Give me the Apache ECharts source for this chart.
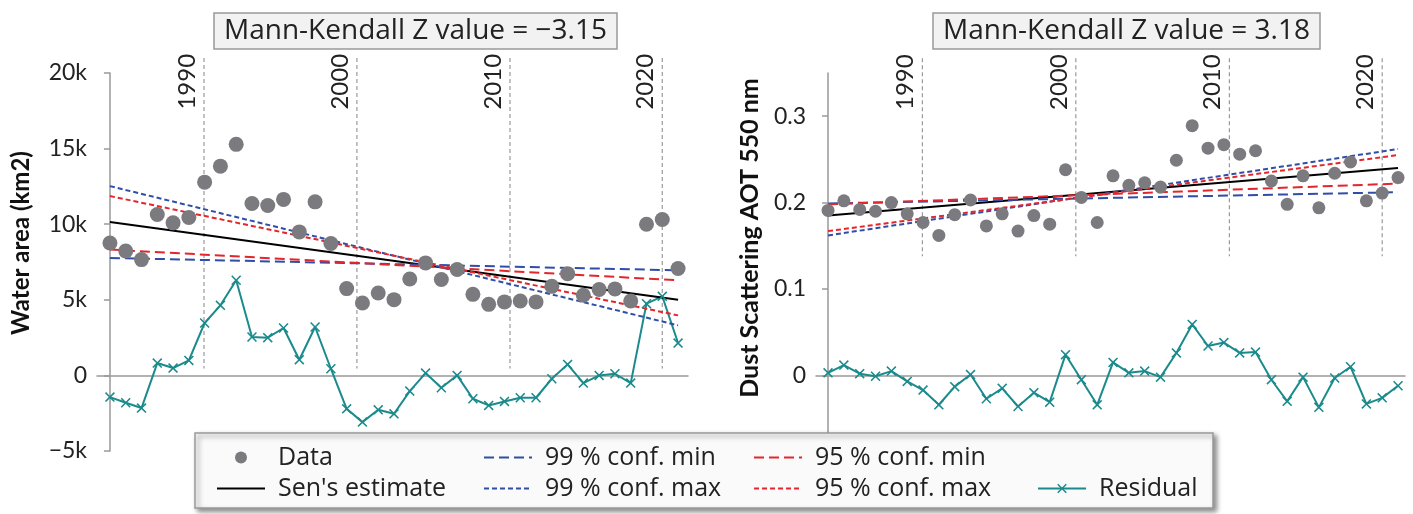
<!DOCTYPE html>
<html>
<head>
<meta charset="utf-8">
<script src="https://cdn.jsdelivr.net/npm/echarts@6/dist/echarts.min.js"></script>
<style>
  html, body { margin: 0; padding: 0; background: #fff; }
  #chart { width: 1413px; height: 514px; }
</style>
</head>
<body>
<div id="chart"></div>
<script>
// left panel: water area (km2)
var waterData = [8760, 8230, 7660, 10640, 10090, 10440, 12780, 13840, 15280, 11370, 11240, 11640, 9490, 11480, 8720, 5740,
  4790, 5450, 5010, 6380, 7440, 6340, 7000, 5360, 4700, 4860, 4920, 4860, 5890, 6730, 5300, 5680, 5720, 4920, 10000, 10310, 7070];
var waterResidual = [-1435, -1810, -2160, 817, 486, 993, 3465, 4636, 6292, 2539, 2495, 3135, 1037, 3200, 441, -2208,
  -3090, -2274, -2539, -1037, 155, -817, 0, -1545, -1987, -1722, -1479, -1479, -221, 729, -508, 0, 110, -508, 4746, 5232, 2141];
var waterSen = [10150, 5010];
var water99min = [7770, 6950];
var water99max = [12520, 3310];
var water95min = [8325, 6290];
var water95max = [11860, 3970];

// right panel: dust scattering AOT 550 nm
var dustData = [0.191, 0.202, 0.192, 0.190, 0.200, 0.187, 0.177, 0.162, 0.186, 0.203, 0.173, 0.187, 0.167, 0.185, 0.175, 0.238,
  0.206, 0.177, 0.231, 0.220, 0.223, 0.218, 0.249, 0.289, 0.263, 0.267, 0.256, 0.260, 0.225, 0.198, 0.231, 0.194, 0.234, 0.247, 0.202, 0.211, 0.229];
var dustResidual = [0.003, 0.012, 0.002, -0.001, 0.005, -0.007, -0.017, -0.034, -0.013, 0.001, -0.027, -0.015, -0.036, -0.020, -0.031, 0.024,
  -0.005, -0.034, 0.015, 0.003, 0.005, -0.002, 0.026, 0.059, 0.034, 0.038, 0.026, 0.027, -0.005, -0.030, -0.002, -0.037, -0.003, 0.010, -0.033, -0.026, -0.012];
var dustSen = [0.185, 0.240];
var dust99min = [0.199, 0.212];
var dust99max = [0.162, 0.262];
var dust95min = [0.198, 0.222];
var dust95max = [0.167, 0.255];

var titles = ['Mann-Kendall Z value = \u22123.15', 'Mann-Kendall Z value = 3.18'];
var yearLabels = ['1990', '2000', '2010', '2020'];
var yearPos = [5.96, 15.65, 25.35, 35.0];   // on the index scale of the points
var trendX = [0, 36];

var FONT = 'Lato, "Open Sans", sans-serif';
var FONT2 = '"Open Sans", Lato, sans-serif';
var BLUE = '#2f4ea8';
var RED = '#e3262b';
var TEAL = '#1b8a8c';
var GREY = '#7b7b7f';
var X_SYMBOL = 'path://M0,1.1L1.1,0L5,3.9L8.9,0L10,1.1L6.1,5L10,8.9L8.9,10L5,6.1L1.1,10L0,8.9L3.9,5Z';

function pts(arr) {
  return arr.map(function (v, i) { return [i, v]; });
}
function trend(arr) {
  return arr.map(function (v, i) { return [trendX[i], v]; });
}

function panelSeries(k, data, resid, sen, m99, x99, m95, x95, yTop, yBot, dot) {
  return [
    {
      name: 'years', type: 'custom', xAxisIndex: k, yAxisIndex: k, z: 1, silent: true,
      data: yearPos.map(function (p) { return [p, yTop, yBot]; }),
      renderItem: function (params, api) {
        var p1 = api.coord([api.value(0), api.value(1)]);
        var p2 = api.coord([api.value(0), api.value(2)]);
        return {
          type: 'group',
          children: [
            { type: 'line', shape: { x1: p1[0], y1: p1[1], x2: p2[0], y2: p2[1] },
              style: { stroke: '#9a9a9a', lineWidth: 1.2, lineDash: [4, 3] } },
            { type: 'text', x: p1[0] - 5, y: p1[1] - 4, rotation: Math.PI / 2,
              style: { text: yearLabels[params.dataIndex], align: 'right', verticalAlign: 'bottom',
                fontSize: 24, fontFamily: FONT, fill: '#222' } }
          ]
        };
      }
    },
    {
      name: 'Residual', type: 'line', xAxisIndex: k, yAxisIndex: k, z: 2,
      data: pts(resid), symbol: X_SYMBOL, symbolSize: 10,
      itemStyle: { color: TEAL }, lineStyle: { color: TEAL, width: 2 }
    },
    {
      name: "Sen's estimate", type: 'line', xAxisIndex: k, yAxisIndex: k, z: 2, showSymbol: false,
      data: trend(sen), lineStyle: { color: '#000', width: 2 }, itemStyle: { color: '#000' }
    },
    {
      name: '99 % conf. min', type: 'line', xAxisIndex: k, yAxisIndex: k, z: 2, showSymbol: false,
      data: trend(m99), lineStyle: { color: BLUE, width: 2, type: [10, 5] }, itemStyle: { color: BLUE }
    },
    {
      name: '99 % conf. max', type: 'line', xAxisIndex: k, yAxisIndex: k, z: 2, showSymbol: false,
      data: trend(x99), lineStyle: { color: BLUE, width: 2, type: [5, 3] }, itemStyle: { color: BLUE }
    },
    {
      name: '95 % conf. min', type: 'line', xAxisIndex: k, yAxisIndex: k, z: 2, showSymbol: false,
      data: trend(m95), lineStyle: { color: RED, width: 2, type: [10, 5] }, itemStyle: { color: RED }
    },
    {
      name: '95 % conf. max', type: 'line', xAxisIndex: k, yAxisIndex: k, z: 2, showSymbol: false,
      data: trend(x95), lineStyle: { color: RED, width: 2, type: [5, 3] }, itemStyle: { color: RED }
    },
    {
      name: 'Data', type: 'scatter', xAxisIndex: k, yAxisIndex: k, z: 3,
      data: pts(data), symbolSize: dot, itemStyle: { color: GREY, opacity: 1 }
    }
  ];
}

var axisLineStyle = { color: '#999', width: 1.5 };

// plain line entries hide the default marker in the legend icon
function lineItem(name) {
  return { name: name, itemStyle: { opacity: 0 } };
}

function legendCol(names, left, top) {
  return {
    data: names, orient: 'vertical', left: left, top: top, padding: 0, z: 10,
    itemWidth: 48, itemHeight: 12, itemGap: 6, selectedMode: false,
    textStyle: { fontSize: 25, fontFamily: FONT2, color: '#222', padding: [0, 0, 0, 8] }
  };
}

var chart = echarts.init(document.getElementById('chart'));
var option = {
  backgroundColor: '#fff',
  animation: false,
  textStyle: { fontFamily: FONT },
  title: [
    { text: titles[0], left: 214, top: 13, padding: [4, 10, 4, 10], backgroundColor: '#f2f2f2',
      borderColor: '#999', borderWidth: 1.5,
      textStyle: { fontSize: 28, fontWeight: 'normal', color: '#222', fontFamily: FONT2 } },
    { text: titles[1], left: 933, top: 13, padding: [4, 10, 4, 10], backgroundColor: '#f2f2f2',
      borderColor: '#999', borderWidth: 1.5,
      textStyle: { fontSize: 28, fontWeight: 'normal', color: '#222', fontFamily: FONT2 } }
  ],
  grid: [
    { left: 97, width: 591, top: 73, height: 378 },
    { left: 816, width: 589, top: 73, height: 378 }
  ],
  xAxis: [
    { type: 'value', gridIndex: 0, min: -0.82, max: 36.63, axisLabel: { show: false }, axisTick: { show: false },
      splitLine: { show: false }, axisLine: { onZero: true, lineStyle: axisLineStyle } },
    { type: 'value', gridIndex: 1, min: -0.76, max: 36.44, axisLabel: { show: false }, axisTick: { show: false },
      splitLine: { show: false }, axisLine: { onZero: true, lineStyle: axisLineStyle } }
  ],
  yAxis: [
    {
      type: 'value', gridIndex: 0, min: -5000, max: 20000, interval: 5000,
      name: 'Water area (km2)', nameLocation: 'middle', nameGap: 64,
      nameTextStyle: { fontSize: 24, fontWeight: 'bold', color: '#111', fontFamily: FONT, padding: [0, 0, 0, 38] },
      axisLine: { show: true, lineStyle: axisLineStyle },
      axisTick: { show: true, length: 6, lineStyle: axisLineStyle },
      splitLine: { show: false },
      axisLabel: {
        fontSize: 23, color: '#222', margin: 10, fontFamily: FONT,
        formatter: function (v) { return v === 0 ? '0' : (v < 0 ? '\u2212' : '') + Math.abs(v) / 1000 + 'k'; }
      }
    },
    {
      type: 'value', gridIndex: 1, min: -0.0875, max: 0.35,
      name: 'Dust Scattering AOT 550 nm', nameLocation: 'middle', nameGap: 54,
      nameTextStyle: { fontSize: 25, fontWeight: 'bold', color: '#111', fontFamily: FONT, padding: [0, 0, 0, 48] },
      axisLine: { show: true, lineStyle: axisLineStyle },
      axisTick: { show: true, length: 6, lineStyle: axisLineStyle, customValues: [0, 0.1, 0.2, 0.3] },
      splitLine: { show: false },
      axisLabel: {
        fontSize: 23, color: '#222', margin: 10, fontFamily: FONT, customValues: [0, 0.1, 0.2, 0.3],
        formatter: function (v) { return v === 0 ? '0' : v.toFixed(1); }
      }
    }
  ],
  legend: [
    legendCol(['Data', lineItem("Sen's estimate")], 216, 445),
    legendCol([lineItem('99 % conf. min'), lineItem('99 % conf. max')], 483, 445),
    legendCol([lineItem('95 % conf. min'), lineItem('95 % conf. max')], 753, 445),
    legendCol(['Residual'], 1037, 476)
  ],
  graphic: [
    {
      type: 'rect', z: 8, silent: true,
      shape: { x: 195, y: 433, width: 1018, height: 75 },
      style: { fill: '#fafafa', stroke: '#999', lineWidth: 1.5,
        shadowBlur: 5, shadowOffsetX: 3, shadowOffsetY: 3, shadowColor: 'rgba(0,0,0,0.45)' }
    }
  ],
  series: [].concat(
    panelSeries(0, waterData, waterResidual, waterSen, water99min, water99max, water95min, water95max, 21000, 460, 15),
    panelSeries(1, dustData, dustResidual, dustSen, dust99min, dust99max, dust95min, dust95max, 0.367, 0.138, 13)
  )
};
chart.setOption(option);
</script>
</body>
</html>
